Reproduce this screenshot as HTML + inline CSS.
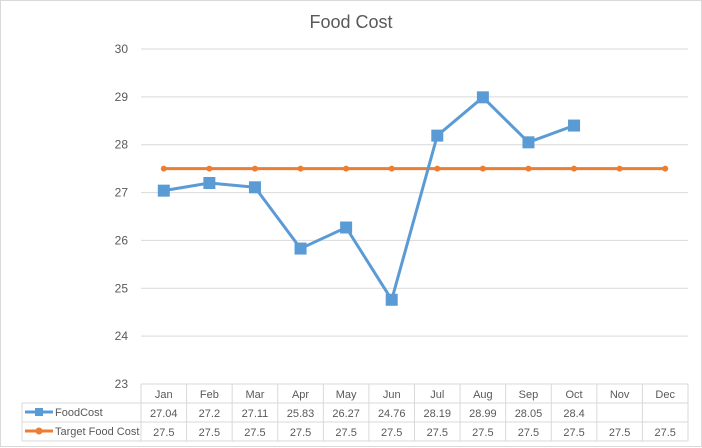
<!DOCTYPE html>
<html><head><meta charset="utf-8"><style>
body{margin:0;background:#fff;font-family:"Liberation Sans",sans-serif}
#wrap{position:relative;width:702px;height:448px;overflow:hidden}
</style></head><body>
<div id="wrap">
<svg id="chart" width="702" height="448"></svg>
</div>
<script>
const months=["Jan","Feb","Mar","Apr","May","Jun","Jul","Aug","Sep","Oct","Nov","Dec"];
const foodCost=[27.04,27.2,27.11,25.83,26.27,24.76,28.19,28.99,28.05,28.4,null,null];
const targetCost=[27.5,27.5,27.5,27.5,27.5,27.5,27.5,27.5,27.5,27.5,27.5,27.5];
const yTicks=[23,24,25,26,27,28,29,30];
const NS="http://www.w3.org/2000/svg";
const svg=document.getElementById('chart');
const L=141,R=688,T=49,B=384,yMin=23,yMax=30;
const cw=(R-L)/months.length;
const x=i=>L+cw*(i+0.5);
const y=v=>B-(v-yMin)/(yMax-yMin)*(B-T);
function mk(tag,a,p){const e=document.createElementNS(NS,tag);for(const k in a)e.setAttribute(k,a[k]);(p||svg).appendChild(e);return e;}
mk('rect',{x:0.5,y:0.5,width:701,height:446,fill:'#fff',stroke:'#d9d9d9'});
const title=mk('text',{x:351,y:28,'text-anchor':'middle','font-size':18,fill:'#595959'});
title.textContent='Food Cost';


yTicks.forEach(t=>{
 const g=mk('line',{x1:L,x2:R,y1:y(t),y2:y(t),stroke:'#d9d9d9'});
 
 
 const tx=mk('text',{x:128,y:y(t)+4,'text-anchor':'end','font-size':12,fill:'#595959'});
 tx.textContent=t;
 
 
});
// table
const rows=[384,403,422,441];
mk('line',{x1:L,x2:R,y1:rows[0],y2:rows[0],stroke:'#d9d9d9'});
for(let r=1;r<4;r++)mk('line',{x1:22,x2:R,y1:rows[r],y2:rows[r],stroke:'#d9d9d9'});
mk('line',{x1:22,x2:22,y1:rows[1],y2:rows[3],stroke:'#d9d9d9'});
for(let i=0;i<=months.length;i++)mk('line',{x1:L+cw*i,x2:L+cw*i,y1:rows[0],y2:rows[3],stroke:'#d9d9d9'});
months.forEach((m,i)=>{
 const t=mk('text',{x:x(i),y:398,'text-anchor':'middle','font-size':11,fill:'#595959'});
 t.textContent=m;
 
 
 if(foodCost[i]!==null){const a=mk('text',{x:x(i),y:417,'text-anchor':'middle','font-size':11,fill:'#595959'});a.textContent=foodCost[i];
 
 }
 const b=mk('text',{x:x(i),y:436,'text-anchor':'middle','font-size':11,fill:'#595959'});b.textContent=targetCost[i];
 
 
});
// legend keys
mk('line',{x1:25,x2:53,y1:412,y2:412,stroke:'#5b9bd5','stroke-width':3});
mk('rect',{x:35,y:408,width:8,height:8,fill:'#5b9bd5'});
const l1=mk('text',{x:55,y:416,'font-size':11,fill:'#595959'});l1.textContent='FoodCost';


mk('line',{x1:25,x2:53,y1:431,y2:431,stroke:'#ed7d31','stroke-width':3});
mk('circle',{cx:39,cy:431,r:3.5,fill:'#ed7d31'});
const l2=mk('text',{x:55,y:435,'font-size':11,fill:'#595959'});l2.textContent='Target Food Cost';


// series
const tp=targetCost.map((v,i)=>x(i)+','+y(v)).join(' ');
const tl=mk('polyline',{points:tp,fill:'none',stroke:'#ed7d31','stroke-width':3});


targetCost.forEach((v,i)=>{const c=mk('circle',{cx:x(i),cy:y(v),r:3,fill:'#ed7d31'});
 
 });
const fp=foodCost.map((v,i)=>v===null?null:x(i)+','+y(v)).filter(p=>p).join(' ');
const fl=mk('polyline',{points:fp,fill:'none',stroke:'#5b9bd5','stroke-width':3});


foodCost.forEach((v,i)=>{if(v===null)return;const r=mk('rect',{x:x(i)-6,y:y(v)-6,width:12,height:12,fill:'#5b9bd5'});
 
 });
</script>
</body></html>
